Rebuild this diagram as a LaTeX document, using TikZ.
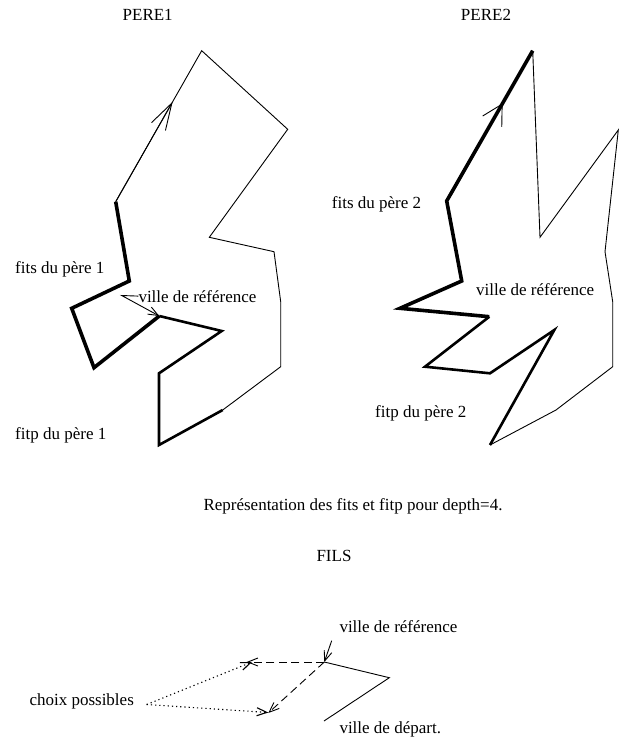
\documentclass[tikz,border=0pt]{standalone}
\usepackage{fontspec}
\setmainfont{Liberation Serif}
\usetikzlibrary{arrows.meta,calc}
\begin{document}
\begin{tikzpicture}[x=1pt,y=-1pt,
  thinline/.style={line width=0.9pt},
  fitsline/.style={line width=3.6pt},
  fitpline/.style={line width=2.6pt},
  lbl/.style={inner sep=0pt,font=\fontsize{17}{20}\selectfont},
  smallbarb/.style={-{Straight Barb[length=10pt,width=8pt]}},
  dashedline/.style={line width=0.9pt,dash pattern=on 8pt off 4.5pt},
  dottedline/.style={line width=1.1pt,dash pattern=on 1.2pt off 3pt}]
\useasboundingbox (0,0) rectangle (620,738);

% ---------- first parent tour ----------
\coordinate (a) at (201.7,50.7);
\coordinate (b) at (287.7,129.3);
\coordinate (c) at (209.3,237.3);
\coordinate (d) at (274,251.7);
\coordinate (e) at (280.7,301.7);
\coordinate (f) at (280.7,366.7);
\coordinate (g) at (222.7,410);
\coordinate (h) at (159,445);
\coordinate (i) at (159,373.3);
\coordinate (j) at (221.7,331);
\coordinate (k) at (159.3,316);
\coordinate (l) at (94,367.7);
\coordinate (m) at (71.7,308.3);
\coordinate (n) at (129.3,281);
\coordinate (o) at (115.7,201.7);

\draw[thinline] (o) -- (a) -- (b) -- (c) -- (d) -- (e) -- (f) -- (g);
\draw[fitpline] (g) -- (h) -- (i) -- (j) -- (k);
\draw[fitsline] (k) -- (l) -- (m) -- (n) -- (o);
\draw[thinline,-{Straight Barb[length=27pt,width=16pt]}] (o) -- ($(o)!0.662!(a)$);

\node[lbl,anchor=base] (pere1) at (147.7,21) {PERE1};
\node[lbl,anchor=base west] (fits1) at (15,273) {fits du père 1};
\node[lbl,anchor=base west] (ref1) at (138.3,302) {ville de référence};
\node[lbl,anchor=base west] (fitp1) at (15,439.5) {fitp du père 1};
\coordinate (lk) at (121.7,295.5);
\draw[thinline,smallbarb] (ref1.west) -- (lk) -- (k);

% ---------- second parent tour ----------
\coordinate (A) at (532.7,50.7);
\coordinate (B) at (540,237.3);
\coordinate (C) at (618.3,130);
\coordinate (D) at (605,251.7);
\coordinate (E) at (612.7,301.7);
\coordinate (F) at (612.7,366.7);
\coordinate (G) at (556,410);
\coordinate (H) at (490,445);
\coordinate (I) at (554.3,330);
\coordinate (J) at (490,373.3);
\coordinate (K) at (425,366.7);
\coordinate (L) at (489.3,316.7);
\coordinate (M) at (400,308.3);
\coordinate (N) at (461.7,281);
\coordinate (O) at (446.7,201);

\draw[thinline] (A) -- (B) -- (C) -- (D) -- (E) -- (F) -- (G) -- (H);
\draw[fitpline] (H) -- (I) -- (J) -- (K) -- (L);
\draw[fitsline] (L) -- (M) -- (N) -- (O) -- (A);
\draw[thinline,-{Straight Barb[length=20pt,width=22pt]}] (O) -- ($(O)!0.65!(A)$);

\node[lbl,anchor=base] (pere2) at (486,21) {PERE2};
\node[lbl,anchor=base west] (fits2) at (331.7,208.3) {fits du père 2};
\node[lbl,anchor=base west] (ref2) at (476,295) {ville de référence};
\node[lbl,anchor=base west] (fitp2) at (375,417) {fitp du père 2};

% ---------- caption ----------
\node[lbl,anchor=base] (caption) at (353,510) {Représentation des fits et fitp pour depth=4.};

% ---------- child ----------
\node[lbl,anchor=base] (fils) at (334,561) {FILS};

\coordinate (R) at (324.3,662);
\coordinate (S) at (389.3,677.7);
\coordinate (T) at (324,721);
\coordinate (Q1) at (246.7,662);
\coordinate (Q2) at (268.3,713);
\coordinate (P) at (146.7,704.5);
\coordinate (W1) at (252,662);
\coordinate (W2) at (268.3,712.5);
\coordinate (rp) at (331.7,640.7);

\draw[thinline] (R) -- (S) -- (T);
\draw[dashedline,smallbarb] (R) -- (Q1);
\draw[dashedline,smallbarb] (R) -- (Q2);
\draw[dottedline,smallbarb] (P) -- (W1);
\draw[dottedline,smallbarb] (P) -- (W2);
\draw[thinline,smallbarb] (rp) -- (R);

\node[lbl,anchor=base west] (choix) at (29.3,705) {choix possibles};
\node[lbl,anchor=base west] (ref3) at (339.3,632.5) {ville de référence};
\node[lbl,anchor=base west] (depart) at (339.3,733) {ville de départ.};
\end{tikzpicture}
\end{document}
